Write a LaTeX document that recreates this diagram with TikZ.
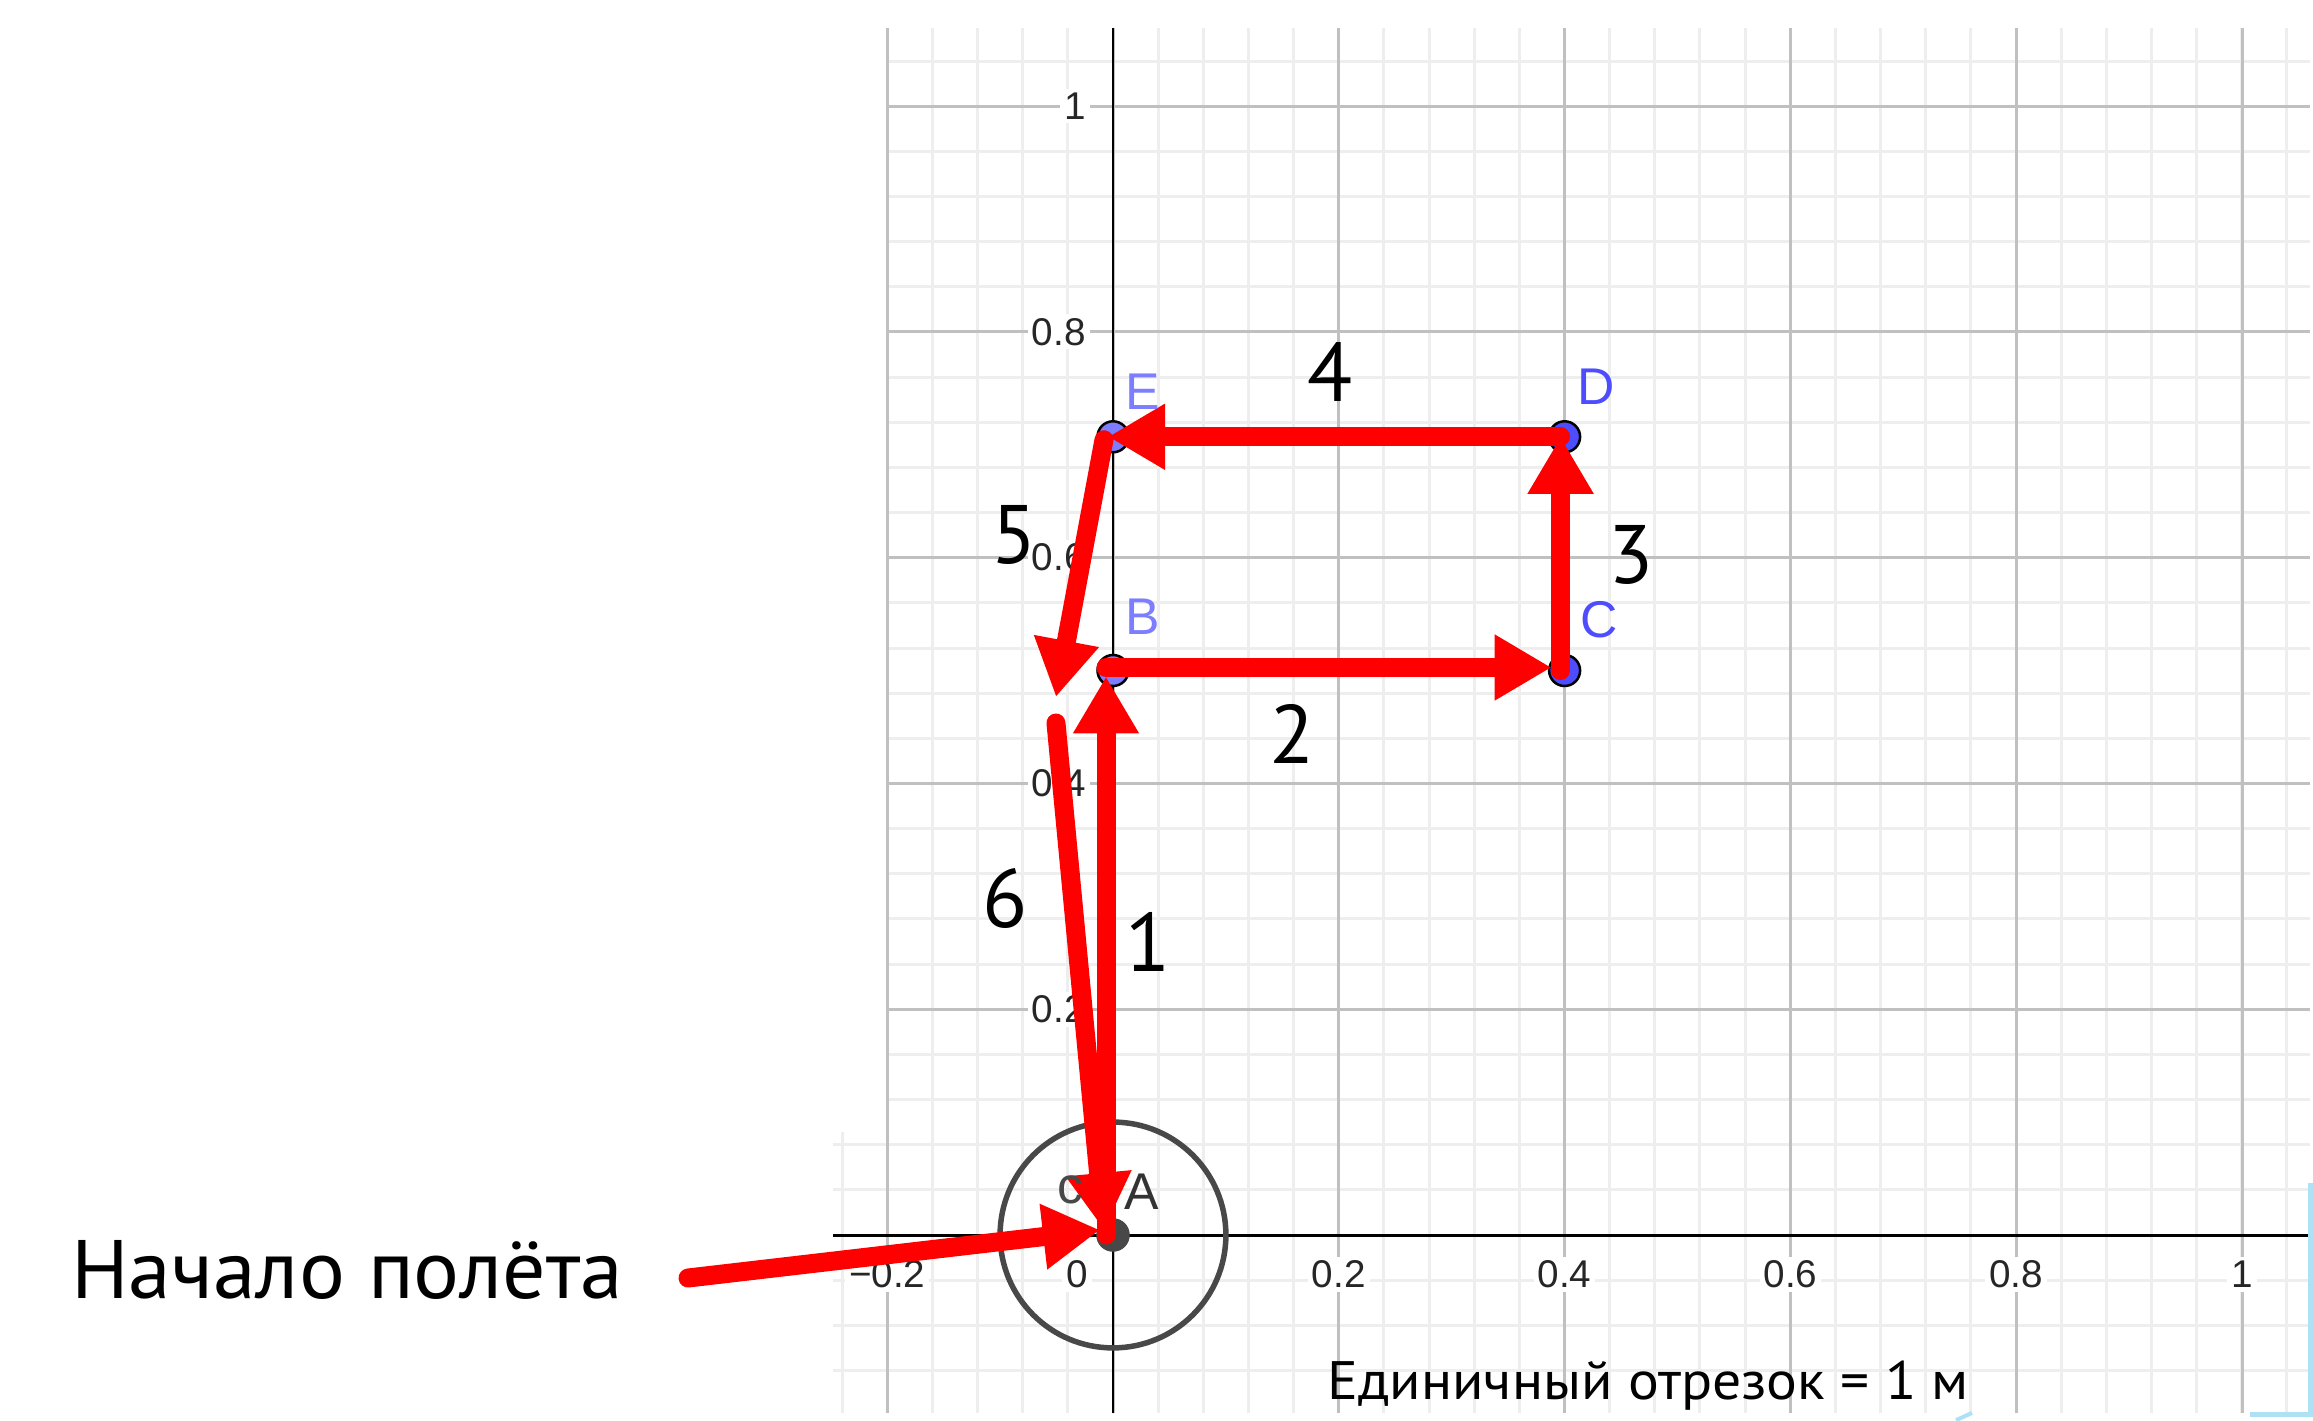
\documentclass[tikz,border=0pt]{standalone}
\usepackage{fontspec}
\usetikzlibrary{arrows.meta}
\newfontfamily\ggbfont{Liberation Sans}
\newfontfamily\handfont{PT Sans}
\newfontfamily\handwide[FakeStretch=1.035]{PT Sans}
\newfontfamily\handwider[FakeStretch=1.065]{PT Sans}
\definecolor{gridminor}{RGB}{238,238,238}
\definecolor{gridmajor}{RGB}{192,192,192}
\definecolor{ptblue}{RGB}{77,77,255}
\definecolor{ptlight}{RGB}{125,125,255}
\definecolor{ggbgray}{RGB}{72,72,72}
\definecolor{frameblue}{RGB}{175,225,245}
\tikzset{
  ticklab/.style={font=\ggbfont\fontsize{11}{13}\selectfont, text=black!85, fill=white, inner sep=0.04cm},
  ptlab/.style={font=\ggbfont\fontsize{14.7}{17}\selectfont, inner sep=0},
  numlab/.style={font=\handfont\fontsize{23.6}{28}\selectfont, inner sep=0},
  ptdot/.style={circle, draw=black, line width=0.025cm, inner sep=0, minimum size=0.31cm},
  flight/.style={->, red, line width=0.19cm, line cap=round, line join=round},
}

\begin{document}
\begin{tikzpicture}[x=11.29cm,y=11.29cm,>={Triangle[length=0.57cm,width=0.62cm]}]
\fill[white] (-0.98583,-0.16386) rectangle (1.06289,1.09389);
\useasboundingbox (-0.98583,-0.16386) rectangle (1.06289,1.09389);
% grid, 0.04 and 0.2
\foreach \i in {-5,...,26}
  \draw[gridminor,line width=0.03cm] ({\i*0.04},-0.158) -- ({\i*0.04},1.069);
\foreach \j in {-3,...,26}
  \draw[gridminor,line width=0.03cm] (-0.2,{\j*0.04}) -- (1.06,{\j*0.04});
\draw[gridminor,line width=0.03cm] (-0.24,-0.158) -- (-0.24,0.091);
\foreach \j in {-3,...,2}
  \draw[gridminor,line width=0.03cm] (-0.248,{\j*0.04}) -- (-0.2,{\j*0.04});
\foreach \i in {-1,...,5}
  \draw[gridmajor,line width=0.03cm] ({\i*0.2},-0.158) -- ({\i*0.2},1.069);
\foreach \j in {0,...,5}
  \draw[gridmajor,line width=0.03cm] (-0.2,{\j*0.2}) -- (1.06,{\j*0.2});
% axes
\draw[line width=0.03cm] (-0.248,0) -- (1.06,0);
\draw[line width=0.025cm] (0,-0.158) -- (0,1.069);
\foreach \t [count=\k] in {0.2,0.4,0.6,0.8,1} {
  \node[ticklab,anchor=east] (ylab\k) at (-0.02,\t) {\t};
  \node[ticklab] (xlab\k) at (\t,-0.035) {\t};
}
\node[ticklab] (xlab0) at (-0.032,-0.035) {0};
\node[ticklab] (xlabm) at (-0.2,-0.035) {−0.2};
% frame bits at the bottom right
\draw[frameblue,line width=0.05cm] (1.0603,0.046) -- (1.0603,-0.159) -- (1.007,-0.159);
\draw[frameblue,line width=0.04cm] (0.7467,-0.164) -- (0.7608,-0.1576);
% points and circle c
\coordinate (A) at (0,0);
\coordinate (B) at (0,0.5);
\coordinate (C) at (0.4,0.5);
\coordinate (D) at (0.4,0.707);
\coordinate (E) at (0,0.707);
\coordinate (turn5) at (-0.0505,0.4765);
\coordinate (turn6) at (-0.0505,0.4535);
\coordinate (launch) at (-0.3764,-0.0381);
\draw[ggbgray,line width=0.055cm] (A) circle[radius=0.1];
\node[ptdot,fill=ggbgray,draw=ggbgray] (dotA) at (A) {};
\node[ptdot,fill=ptlight] (dotB) at (B) {};
\node[ptdot,fill=ptblue] (dotC) at (C) {};
\node[ptdot,fill=ptblue] (dotD) at (D) {};
\node[ptdot,fill=ptlight] (dotE) at (E) {};
% flight path
\draw[flight] ([xshift=-0.07cm]A) -- ([shift={(-0.07cm,-0.06cm)}]B);
\draw[flight] ([shift={(-0.07cm,0.03cm)}]B) -- ([shift={(-0.13cm,0.03cm)}]C);
\draw[flight] ([xshift=-0.04cm]C) -- ([xshift=-0.04cm]D);
\draw[flight] ([xshift=-0.04cm]D) -- ([xshift=-0.05cm]E);
\draw[flight] ([shift={(-0.09cm,-0.03cm)}]E) -- (turn5);
\draw[flight] (turn6) -- ([shift={(-0.09cm,0.05cm)}]A);
\draw[flight] (launch) -- ([shift={(-0.13cm,0.05cm)}]A);
% labels
\node[ptlab,text=ptlight] (labE) at (0.0266,0.7467) {E};
\node[ptlab,text=ptlight] (labB) at (0.0266,0.5474) {B};
\node[ptlab,text=ptblue] (labD) at (0.4278,0.7511) {D};
\node[ptlab,text=ptblue] (labC) at (0.4305,0.5447) {C};
\node[ptlab,text=black!80] (labA) at (0.0257,0.0381) {A};
\node[ptlab,text=ggbgray] (labc) at (-0.0381,0.0398) {c};
\node[numlab] (n1) at (0.031,0.2595) {1};
\node[numlab] (n2) at (0.1585,0.4438) {2};
\node[numlab] (n3) at (0.4588,0.6023) {3};
\node[numlab] (n4) at (0.1922,0.7644) {4};
\node[numlab] (n5) at (-0.0877,0.62) {5};
\node[numlab] (n6) at (-0.0957,0.2985) {6};
\node[numlab,font=\handwide\fontsize{23.6}{28}\selectfont,anchor=base west] (start) at (-0.9235,-0.0558) {Начало полёта};
\node[font=\handwider\fontsize{15.4}{18}\selectfont,anchor=base west,inner sep=0] (unit) at (0.1895,-0.1461) {Единичный отрезок = 1 м};
\end{tikzpicture}
\end{document}
